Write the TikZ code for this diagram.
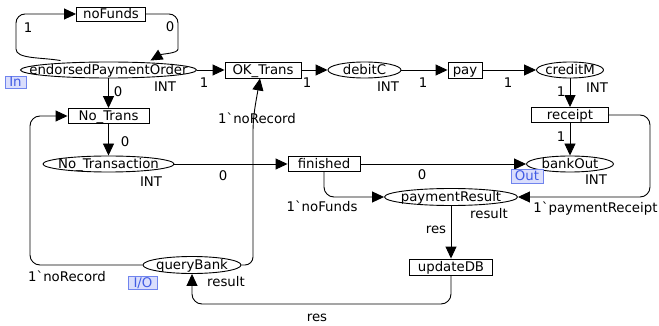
\documentclass[tikz,border=0pt]{standalone}
\usepackage{fontspec}
\setmainfont{DejaVu Sans}
\usetikzlibrary{shapes.geometric,arrows.meta}
\definecolor{portfill}{RGB}{218,222,252}
\definecolor{portline}{RGB}{112,132,238}
\definecolor{porttext}{RGB}{66,92,228}
\newcommand\pname[1]{\makebox[0pt]{#1}}
\begin{document}
\begin{tikzpicture}[x=1pt,y=-1pt,line width=0.9pt,
  font=\fontsize{13.3}{15}\selectfont,
  txt/.style={inner sep=0pt,text height=9.5pt,text depth=.5pt},
  place/.style={txt,ellipse,draw,minimum height=16pt},
  trans/.style={txt,rectangle,draw,minimum height=15pt},
  port/.style={txt,rectangle,draw=portline,fill=portfill,text=porttext,line width=.7pt,minimum height=13pt},
  lbl/.style={txt},
  arc/.style={-{Triangle[length=12pt,width=11pt]}}]
\useasboundingbox (0,0) rectangle (659,326);
% places
\node[place,minimum width=176pt] (ePO) at (108.5,70) {\pname{endorsedPaymentOrder}};
\node[place,minimum width=73pt] (debitC) at (364.5,70) {\pname{debitC}};
\node[place,minimum width=67pt] (creditM) at (570,70) {\pname{creditM}};
\node[place,minimum width=131pt] (NoTx) at (108.5,164) {\pname{No\_Transaction}};
\node[place,minimum width=87pt] (bankOut) at (570,164) {\pname{bankOut}};
\node[place,minimum width=133pt,minimum height=17pt] (payRes) at (451,197) {\pname{paymentResult}};
\node[place,minimum width=98pt,minimum height=17pt] (queryBank) at (192,265) {\pname{queryBank}};
% transitions
\node[trans,minimum width=69pt,minimum height=14pt] (noFunds) at (111,14) {noFunds};
\node[trans,minimum width=76pt,minimum height=16pt] (OK) at (263,70) {OK\_Trans};
\node[trans,minimum width=34pt,minimum height=16pt] (pay) at (465,70) {pay};
\node[trans,minimum width=77pt] (receipt) at (570,115) {receipt};
\node[trans,minimum width=81pt] (NoTrans) at (108.5,116) {No\_Trans};
\node[trans,minimum width=72pt] (finished) at (324,164) {finished};
\node[trans,minimum width=83pt,minimum height=16pt] (updateDB) at (451,267) {updateDB};
% arcs
\draw[arc] (ePO) -- (OK);
\draw[arc] (OK) -- (debitC);
\draw[arc] (debitC) -- (pay);
\draw[arc] (pay) -- (creditM);
\draw[arc] (creditM) -- (receipt);
\draw[arc] (receipt) -- (bankOut);
\draw[arc] (ePO) -- (NoTrans);
\draw[arc] (NoTrans) -- (NoTx);
\draw[arc] (NoTx) -- (finished);
\draw[arc] (finished) -- (bankOut);
\draw[arc] (payRes) -- (updateDB);
\draw[arc,rounded corners=10pt] (receipt.east) -- (650,115) -- (650,197) -- (payRes.east);
\draw[arc,rounded corners=10pt] (finished.south) |- (payRes.west);
\draw[arc,rounded corners=10pt] (updateDB.south) -- (451,304) -| (queryBank.south);
\draw[arc,rounded corners=8pt] (queryBank.east) -- (253,265) -- (253,140)
  to[out=90,in=-100] ([xshift=-3pt]OK.south);
\draw[arc,rounded corners=10pt] (queryBank.west) -- (30,265) |- (NoTrans.west);
\draw[arc,rounded corners=9pt] ([xshift=-48pt,yshift=1pt]ePO.north) to[out=170,in=-90] (16,40)
  |- (noFunds.west);
\draw[arc,rounded corners=9pt] (noFunds.east) -| (178,40)
  to[out=-90,in=30] ([xshift=42pt,yshift=1pt]ePO.north);
% inscriptions
\node[lbl] (l1) at (28,28) {1};
\node[lbl] (l2) at (170,27) {0};
\node[lbl] (t1) at (165,87) {INT};
\node[lbl] (l3) at (204,83) {1};
\node[lbl] (l4) at (118,92) {0};
\node[lbl] (l5) at (307,83) {1};
\node[lbl] (t2) at (388,87) {INT};
\node[lbl] (l6) at (423,83) {1};
\node[lbl] (l7) at (508,83) {1};
\node[lbl] (t3) at (597,88) {INT};
\node[lbl] (l8) at (561,92) {1};
\node[lbl] (l9) at (561,137) {1};
\node[lbl] (l10) at (257,119) {1\textasciigrave noRecord};
\node[lbl] (l11) at (125,142) {0};
\node[lbl] (t4) at (151,182) {INT};
\node[lbl] (l12) at (223,176) {0};
\node[lbl] (l13) at (422,175) {0};
\node[lbl] (t5) at (596,180) {INT};
\node[lbl] (l14) at (322,207) {1\textasciigrave noFunds};
\node[lbl] (t6) at (489,214) {result};
\node[lbl,anchor=west] (l15) at (533,208) {1\textasciigrave paymentReceipt};
\node[lbl] (l16) at (436,229) {res};
\node[lbl] (t7) at (226,282) {result};
\node[lbl] (l17) at (67,277) {1\textasciigrave noRecord};
\node[lbl] (l18) at (317,317) {res};
% ports
\node[port,minimum width=21pt,minimum height=12pt] (inTag) at (15.5,82) {In};
\node[port,minimum width=32pt,minimum height=14pt] (outTag) at (527,176) {Out};
\node[port,minimum width=29pt] (ioTag) at (143,283) {I/O};
\end{tikzpicture}
\end{document}
